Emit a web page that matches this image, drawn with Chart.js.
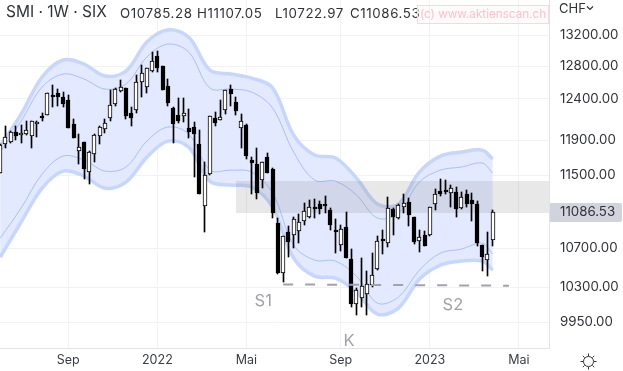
<!DOCTYPE html>
<html>
<head>
<meta charset="utf-8">
<script src="https://cdn.jsdelivr.net/npm/chart.js@4"></script>
<style>
  body { margin: 0; background: #fff; font-family: Inter, sans-serif; color: #2f3238; }
  #wrap { position: relative; width: 623px; height: 371px; overflow: hidden; }
  canvas { position: absolute; left: 0; top: 0; }
  .txt { position: absolute; white-space: nowrap; }
  #title { left: 6px; top: 1px; font-size: 15.5px; line-height: 22px; }
  .ohlc { top: 4px; font-size: 13.3px; line-height: 18px; letter-spacing: .6px; }
  #mark { left: 417px; top: 5px; width: 130px; height: 17px; line-height: 17px; text-align: center;
          border: 1px solid #fdd6db; background: rgba(255,225,230,.16); color: #fcc2ca; font-size: 11.7px; }
  #cur { left: 559px; top: 0; font-size: 13px; line-height: 17px; }
</style>
</head>
<body>
<div id="wrap">
  <canvas id="chart" width="623" height="371"></canvas>
  <div class="txt" id="title">SMI · 1W · SIX</div>
  <div class="txt ohlc" style="left:120px">O10785.28</div>
  <div class="txt ohlc" style="left:197px">H11107.05</div>
  <div class="txt ohlc" style="left:275px">L10722.97</div>
  <div class="txt ohlc" style="left:350px">C11086.53</div>
  <div class="txt" id="mark">(c) www.aktienscan.ch</div>
  <div class="txt" id="cur">CHF</div>
  <svg class="txt" style="left:586px;top:5px" width="8" height="6"><path d="M1 1.5 L4 4.5 L7 1.5" fill="none" stroke="#2f3238" stroke-width="1.2"/></svg>
  <svg class="txt" style="left:580px;top:353px" width="17" height="17" fill="none" stroke="#2f3238" stroke-width="1">
    <circle cx="8.5" cy="8.5" r="5"/>
    <path d="M8.5 0.5V3M8.5 14V16.5M0.5 8.5H3M14 8.5H16.5M2.8 2.8L4.6 4.6M12.4 12.4L14.2 14.2M2.8 14.2L4.6 12.4M12.4 4.6L14.2 2.8"/>
  </svg>
</div>
<script>
// weekly candles, first one is the week of 7 Jun 2021
const opens = [11528,11858,11877,11995,11959,11971,11947,12090,12177,12205,12431,12473,12415,12382,12090,11780,11877,11531,11738,11951,12038,12169,12338,12489,12526,12221,12265,12600,12538,12738,12926,12801,12551,12286,12197,12185,12042,12054,11854,11152,11509,12165,12145,12257,12518,12358,12042,12082,11672,11623,11440,11707,11569,10970,10446,10870,10838,10887,10994,11032,11125,11177,11159,11111,10891,10738,10924,10584,10131,10185,10232,10320,10484,10794,10752,11122,11024,11141,11199,11032,10780,10837,10841,11174,11321,11329,11296,11310,11137,11285,11221,11174,10731,10574,10785.28];
const highs = [11860,12070,12011,12070,12078,12129,12133,12133,12221,12473,12567,12514,12481,12444,12149,11971,11880,11776,11971,12070,12149,12505,12526,12629,12530,12298,12692,12817,12780,12985,12993,12805,12646,12294,12411,12411,12277,12121,12019,11645,12190,12233,12382,12510,12567,12415,12213,12090,11707,11811,11653,11749,11577,11020,10830,10937,11032,11064,11188,11221,11232,11213,11266,11137,11013,10948,11087,10689,10286,10595,10460,10647,10834,10895,11251,11130,11177,11285,11243,11035,10895,10884,11145,11344,11452,11441,11388,11366,11310,11329,11296,11210,10735,10873,11107.05];
const lows = [11525,11807,11869,11904,11865,11963,11807,11943,12133,12205,12302,12310,12294,12050,11932,11626,11455,11396,11653,11861,11983,12133,12314,12485,12153,12074,12221,12415,12464,12735,12734,12505,12310,11873,12109,12121,11924,11482,11288,10876,11505,12074,12143,12213,12310,12205,11815,11680,11291,11235,11358,11520,11027,10432,10353,10612,10706,10759,10948,11027,11027,11071,11075,10895,10654,10675,10598,10102,10022,10102,10022,10302,10477,10640,10717,10841,11013,11082,10937,10745,10664,10725,10830,11111,11269,11291,11144,11038,11126,11144,10994,10727,10466,10411,10722.97];
const closes = [11850,11936,11995,11955,11983,12022,12125,12117,12161,12464,12419,12423,12338,12050,11932,11819,11569,11761,11963,12058,12102,12318,12514,12538,12193,12169,12600,12713,12776,12864,12780,12510,12350,12098,12133,12221,12003,11975,11291,11497,12185,12105,12173,12501,12460,12249,12125,11722,11642,11303,11645,11528,11082,10439,10827,10769,11010,10977,11097,11141,11118,11126,11152,10945,10876,10902,10601,10128,10269,10306,10327,10418,10773,10780,11130,11035,11163,11191,11060,10769,10823,10727,11141,11285,11291,11310,11351,11126,11254,11180,11180,10755,10612,10646,11086.53];

// envelope read every 4 weeks
const bandWeeks = [0,4,8,12,16,20,24,28,32,36,40,44,48,52,56,60,64,68,72,76,80,84,88,92,94];
const outerUpper = [11835,12213,12667,12881,12830,12679,12741,13111,13267,13174,12754,12704,12654,12530,11963,11730,11695,11467,11177,11177,11534,11718,11764,11787,11684];
const innerUpper = [11764,12129,12542,12704,12642,12517,12579,12919,13084,12981,12530,12517,12480,12285,11764,11444,11433,11276,11024,11078,11422,11557,11592,11638,11523];
const innerLower = [10808,11133,11512,11718,11672,11546,11592,11892,12058,11975,11557,11557,11534,11299,10734,10577,10567,10411,10138,10198,10473,10650,10692,10755,10640];
const outerLower = [10608,10980,11354,11546,11489,11354,11422,11706,11892,11822,11433,11388,11366,11144,10598,10411,10390,10249,10029,10089,10380,10525,10567,10567,10473];

// grey zone and the support line under S1 / S2
const zoneWeeks = [45, 104.74];
const zoneTop = [11433, 11433];
const zoneBottom = [11078, 11078];
const supportWeeks = [54, 97.1];
const supportPrices = [10327, 10314];

const noteLabels = ['S1', 'S2', 'K'];
const noteWeeks = [50.2, 86.4, 66.6];
const notePrices = [10158, 10118, 9765];

const priceTicks = [13200, 12800, 12400, 11900, 11500, 11086.53, 10700, 10300, 9950];
const monthWeeks = [13, 30, 47, 65, 82, 99];
const monthLabels = ['Sep', '2022', 'Mai', 'Sep', '2023', 'Mai'];

const lastClose = closes[closes.length - 1];
const weeks = opens.map((_, i) => i);
const xy = (xs, ys) => xs.map((x, i) => ({ x: x, y: ys[i] }));

const bandLine = (label, data, width, color, extra) => Object.assign({
    type: 'line', label: label, data: xy(bandWeeks, data), order: 5,
    borderColor: color, borderWidth: width, pointRadius: 0, tension: 0.35, fill: false
}, extra);

// chart.js keeps room for the outer tick labels, the reference has none
const noPadding = s => { s.paddingTop = s.paddingBottom = s.paddingLeft = s.paddingRight = 0; };

const extras = {
    id: 'extras',
    // snap candles to whole pixels so the 1px borders stay sharp
    afterDatasetsUpdate(chart) {
        chart.data.datasets.forEach((ds, i) => {
            if (ds.type !== 'bar') return;
            chart.getDatasetMeta(i).data.forEach(el => {
                const n = Math.round(el.x);
                el.x = ds.label === 'wick' ? (el.x >= n ? n + 0.5 : n - 0.5) : n;
                el.y = Math.round(el.y);
                el.base = Math.round(el.base);
            });
        });
    },
    // last price tag sits under the tick label
    beforeDraw(chart) {
        const c = chart.ctx, y = chart.scales.y.getPixelForValue(lastClose);
        c.save();
        c.fillStyle = '#d1d4dc';
        c.beginPath();
        c.roundRect(549, Math.round(y) - 9, 73, 19, 2);
        c.fill();
        c.restore();
    },
    afterDraw(chart) {
        const c = chart.ctx;
        c.save();
        c.font = '16.5px Inter';
        c.fillStyle = '#a0a2a8';
        c.textAlign = 'center';
        c.textBaseline = 'middle';
        noteLabels.forEach((t, i) => {
            c.fillText(t, chart.scales.x.getPixelForValue(noteWeeks[i]), chart.scales.y.getPixelForValue(notePrices[i]));
        });
        c.restore();
    }
};

new Chart(document.getElementById('chart'), {
    data: {
        datasets: [
            { type: 'line', label: 'support', data: xy(supportWeeks, supportPrices), order: 0,
              borderColor: '#a0a3ac', borderWidth: 2, borderDash: [10, 12], pointRadius: 0 },
            { type: 'bar', label: 'body', data: weeks.map(i => ({ x: i, y: [opens[i], closes[i]] })), order: 1,
              grouped: false, barThickness: 4, minBarLength: 2, borderWidth: 1, borderColor: '#000', borderSkipped: false,
              backgroundColor: weeks.map(i => closes[i] >= opens[i] ? '#fff' : '#000') },
            { type: 'bar', label: 'wick', data: weeks.map(i => ({ x: i, y: [lows[i], highs[i]] })), order: 2,
              grouped: false, barThickness: 1, backgroundColor: '#000' },
            { type: 'line', label: 'zone top', data: xy(zoneWeeks, zoneTop), order: 3, borderWidth: 0, pointRadius: 0,
              fill: { target: '+1' }, backgroundColor: 'rgba(125,128,135,0.18)' },
            { type: 'line', label: 'zone bottom', data: xy(zoneWeeks, zoneBottom), order: 3, borderWidth: 0, pointRadius: 0, fill: false },
            // the filled one goes first, else its fill covers the other band lines
            bandLine('outer upper', outerUpper, 3.5, '#c6d6fc', { order: 6, fill: { target: '+3' }, backgroundColor: '#e3e9fe' }),
            bandLine('inner upper', innerUpper, 1, '#a9c0f9'),
            bandLine('inner lower', innerLower, 1, '#a9c0f9'),
            bandLine('outer lower', outerLower, 3.5, '#c6d6fc')
        ]
    },
    plugins: [extras],
    options: {
        responsive: false,
        animation: false,
        layout: { padding: 0, autoPadding: false },
        plugins: { legend: { display: false }, tooltip: { enabled: false } },
        scales: {
            x: {
                type: 'linear', offset: false, min: -0.034, max: 104.74, bounds: 'data',
                afterBuildTicks: s => { s.ticks = monthWeeks.map(v => ({ value: v })); },
                afterFit: s => { s.height = 23; noPadding(s); },
                grid: { color: '#f0f2f6', drawTicks: false, offset: false },
                border: { color: '#e0e3eb' },
                ticks: {
                    autoSkip: false, maxRotation: 0, padding: 5, color: '#3a3d44', font: { family: 'Inter', size: 12.5 },
                    callback: (v, i) => monthLabels[i]
                }
            },
            y: {
                type: 'logarithmic', position: 'right', min: 9700, max: 13665, bounds: 'data',
                afterBuildTicks: s => { s.ticks = priceTicks.map(v => ({ value: v })); },
                afterFit: s => { s.width = 74; noPadding(s); },
                grid: {
                    drawTicks: false,
                    color: c => c.tick && c.tick.value === lastClose ? 'rgba(0,0,0,0)' : '#f0f2f6'
                },
                border: { color: '#e0e3eb' },
                ticks: {
                    autoSkip: false, padding: 11, color: '#2f3238', font: { family: 'Inter', size: 13.3 },
                    callback: v => v.toFixed(2)
                }
            }
        }
    }
});
</script>
</body>
</html>
